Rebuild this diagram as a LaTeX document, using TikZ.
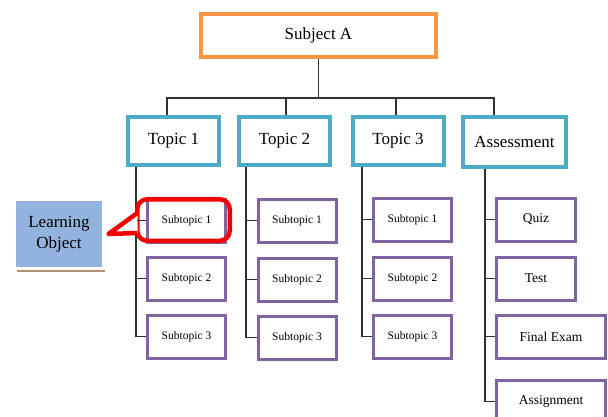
\documentclass[tikz,border=0pt]{standalone}
\usepackage{fontspec}
\setmainfont{Liberation Serif}
\usetikzlibrary{shadows}
\definecolor{subjorange}{HTML}{F79646}
\definecolor{topicteal}{HTML}{4BACC6}
\definecolor{subpurple}{HTML}{8064A2}
\definecolor{loblue}{HTML}{93B3DE}
\definecolor{linkgray}{HTML}{303030}
\definecolor{markred}{HTML}{F20000}

\begin{document}
\begin{tikzpicture}[x=1pt, y=-1pt,
  link/.style={draw=linkgray, line width=1.4pt},
  subjbox/.style={draw=subjorange, line width=4pt, fill=white,
    minimum width=235, minimum height=43, inner sep=0pt,
    font=\fontsize{17}{20}\selectfont},
  topicbox/.style={draw=topicteal, line width=4pt, fill=white,
    minimum width=91, minimum height=48, inner sep=0pt,
    font=\fontsize{17}{20}\selectfont},
  subbox/.style={draw=subpurple, line width=3pt, fill=white,
    minimum width=78, minimum height=43, inner sep=0pt,
    font=\fontsize{11.5}{13}\selectfont},
  taskbox/.style={subbox, font=\fontsize{13.5}{16}\selectfont},
  lobox/.style={draw=white, line width=2.5pt, fill=loblue,
    minimum width=88.5, minimum height=68.5, align=center, inner sep=0pt,
    font=\fontsize{17}{21}\selectfont,
    drop shadow={shadow xshift=2pt, shadow yshift=-3.5pt,
                 fill=brown!60!gray, opacity=0.85}},
  markline/.style={draw=markred, line width=4.5pt, line join=round},
  markbox/.style={markline, rounded corners=10pt,
    minimum width=92.5, minimum height=41.5, inner sep=0pt}
  ]

\clip (0,0) rectangle (608,416);

% --- Subject ---
\node[subjbox] (subj) at (318.5,35.5) {Subject A};

% --- Topics ---
\node[topicbox] (t1) at (173.5,141) {Topic 1};
\node[topicbox] (t2) at (284.5,141) {Topic 2};
\node[topicbox] (t3) at (398,141) {Topic 3};
\node[topicbox, minimum width=103, minimum height=50] (t4) at (514.5,142) {Assessment};

% Bus from subject to topics
\draw[link] (subj.south) -- ++(0,39) coordinate (bus);
\draw[link] ([xshift=-6.5pt]t1.north) |- (bus) -| ([xshift=-20.5pt]t4.north);
\draw[link] ([xshift=1.5pt]t2.north) -- ([xshift=1.5pt]t2.north |- bus);
\draw[link] ([xshift=-2pt]t3.north) -- ([xshift=-2pt]t3.north |- bus);

% --- Topic 1 subtopics ---
\node[subbox] (s11) at (186.5,220.5) {Subtopic 1};
\node[subbox] (s12) at (186.5,278.5) {Subtopic 2};
\node[subbox] (s13) at (186.5,336.5) {Subtopic 3};
\coordinate (sp1) at ([xshift=-10pt]s11.west);
\draw[link] (sp1 |- t1.south) |- (s13.west);
\draw[link] (s11.west) -- (s11.west -| sp1);
\draw[link] (s12.west) -- (s12.west -| sp1);

% --- Topic 2 subtopics ---
\node[subbox] (s21) at (297,220.5) {Subtopic 1};
\node[subbox] (s22) at (297,279.5) {Subtopic 2};
\node[subbox] (s23) at (297,337.5) {Subtopic 3};
\coordinate (sp2) at ([xshift=-10.5pt]s21.west);
\draw[link] (sp2 |- t2.south) |- (s23.west);
\draw[link] (s21.west) -- (s21.west -| sp2);
\draw[link] (s22.west) -- (s22.west -| sp2);

% --- Topic 3 subtopics ---
\node[subbox] (s31) at (412.5,219.5) {Subtopic 1};
\node[subbox] (s32) at (412.5,278.5) {Subtopic 2};
\node[subbox] (s33) at (412.5,336.5) {Subtopic 3};
\coordinate (sp3) at ([xshift=-10pt]s31.west);
\draw[link] (sp3 |- t3.south) |- (s33.west);
\draw[link] (s31.west) -- (s31.west -| sp3);
\draw[link] (s32.west) -- (s32.west -| sp3);

% --- Assessment tasks ---
\node[taskbox, minimum width=79] (a1) at (536,219.5) {Quiz};
\node[taskbox, minimum width=79] (a2) at (536,278.5) {Test};
\node[taskbox, minimum width=109] (a3) at (551,336.5) {Final Exam};
\node[taskbox, minimum width=109] (a4) at (551,401.5) {Assignment};
\coordinate (sp4) at ([xshift=-10pt]a1.west);
\draw[link] (sp4 |- t4.south) |- (a4.west);
\draw[link] (a1.west) -- (a1.west -| sp4);
\draw[link] (a2.west) -- (a2.west -| sp4);
\draw[link] (a3.west) -- (a3.west -| sp4);

% --- Learning object callout ---
\node[lobox] (lo) at (59,234) {Learning\\Object};
\node[markbox] (mark) at (183.5,220) {};
\coordinate (tip) at ([xshift=4pt]lo.east);
\fill[white] (tip) -- ([xshift=2.6pt,yshift=7pt]mark.west)
  -- ([xshift=2.6pt,yshift=-13pt]mark.west) -- cycle;
\draw[markline] ([xshift=2.3pt,yshift=7pt]mark.west) -- (tip)
  -- ([xshift=2.3pt,yshift=-13pt]mark.west);
\draw[link] (s11.west) -- ([xshift=2.4pt]mark.west |- s11.west);

\end{tikzpicture}
\end{document}
